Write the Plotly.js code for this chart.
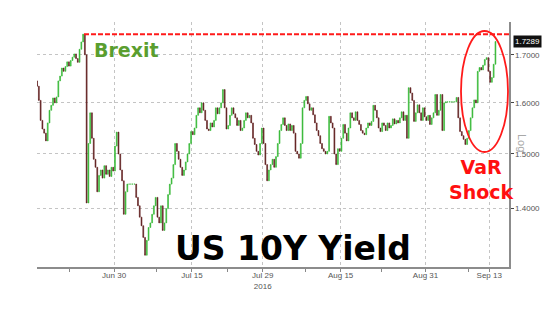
<!DOCTYPE html>
<html>
<head>
<meta charset="utf-8">
<script src="https://cdn.plot.ly/plotly-3.0.1.min.js"></script>
<style>html,body{margin:0;padding:0;background:#fff;}#chart{width:554px;height:309px;}</style>
</head>
<body>
<div id="chart"></div>
<script>
// Trading days shown on the chart (weekends removed by the axis)
const tradingDays = [
 '2016-06-15','2016-06-16','2016-06-17','2016-06-20','2016-06-21','2016-06-22','2016-06-23','2016-06-24',
 '2016-06-27','2016-06-28','2016-06-29','2016-06-30','2016-07-01','2016-07-04','2016-07-05','2016-07-06',
 '2016-07-07','2016-07-08','2016-07-11','2016-07-12','2016-07-13','2016-07-14','2016-07-15','2016-07-18',
 '2016-07-19','2016-07-20','2016-07-21','2016-07-22','2016-07-25','2016-07-26','2016-07-27','2016-07-28',
 '2016-07-29','2016-08-01','2016-08-02','2016-08-03','2016-08-04','2016-08-05','2016-08-08','2016-08-09',
 '2016-08-10','2016-08-11','2016-08-12','2016-08-15','2016-08-16','2016-08-17','2016-08-18','2016-08-19',
 '2016-08-22','2016-08-23','2016-08-24','2016-08-25','2016-08-26','2016-08-29','2016-08-30','2016-08-31',
 '2016-09-01','2016-09-02','2016-09-05','2016-09-06','2016-09-07','2016-09-08','2016-09-09','2016-09-12',
 '2016-09-13'
];
// Intraday session times (4 bars per day)
const sessionTimes = ['03:00','09:00','15:00','21:00'];
// US 10Y yield, closes of each intraday bar, one row per trading day
const closes = [
 [1.634,1.605,1.565,1.548],[1.540,1.525,1.560,1.585],[1.595,1.610,1.600,1.612],[1.645,1.655,1.672,1.665],
 [1.675,1.685,1.676,1.688],[1.695,1.702,1.692,1.684],[1.712,1.728,1.745,1.700],[1.410,1.520,1.580,1.530],
 [1.490,1.475,1.430,1.460],[1.470,1.455,1.478,1.462],[1.470,1.458,1.475,1.468],[1.515,1.542,1.500,1.470],
 [1.450,1.390,1.430,1.444],[1.444,1.444,1.444,1.444],[1.420,1.405,1.385,1.370],[1.350,1.320,1.345,1.367],
 [1.375,1.390,1.405,1.420],[1.385,1.375,1.405,1.362],[1.375,1.400,1.425,1.444],[1.455,1.480,1.520,1.505],
 [1.490,1.475,1.460,1.470],[1.485,1.500,1.520,1.543],[1.537,1.550,1.575,1.590],[1.580,1.600,1.585,1.565],
 [1.548,1.545,1.560,1.552],[1.565,1.590,1.578,1.590],[1.600,1.627,1.590,1.548],[1.555,1.575,1.590,1.578],
 [1.570,1.555,1.565,1.545],[1.550,1.565,1.580,1.570],[1.575,1.560,1.530,1.518],[1.505,1.498,1.520,1.550],
 [1.520,1.480,1.450,1.470],[1.480,1.490,1.475,1.495],[1.520,1.545,1.557,1.570],[1.555,1.545,1.558,1.545],
 [1.555,1.540,1.505,1.500],[1.492,1.520,1.590,1.605],[1.613,1.598,1.585,1.590],[1.576,1.560,1.545,1.535],
 [1.520,1.510,1.505,1.500],[1.505,1.573,1.560,1.550],[1.500,1.480,1.510,1.505],[1.530,1.557,1.540,1.525],
 [1.550,1.580,1.570,1.565],[1.582,1.565,1.557,1.545],[1.540,1.537,1.550,1.560],[1.555,1.563,1.595,1.585],
 [1.570,1.550,1.543,1.560],[1.555,1.545,1.560,1.550],[1.555,1.568,1.558,1.565],[1.560,1.570,1.582,1.565],
 [1.575,1.530,1.631,1.620],[1.605,1.563,1.580,1.596],[1.580,1.565,1.590,1.572],[1.565,1.575,1.557,1.570],
 [1.580,1.617,1.575,1.585],[1.617,1.545,1.600,1.602],[1.602,1.602,1.602,1.602],[1.602,1.611,1.570,1.543],
 [1.535,1.528,1.518,1.530],[1.545,1.570,1.590,1.606],[1.600,1.665,1.673,1.668],[1.678,1.690,1.694,1.665],
 [1.642,1.652,1.680,1.7289]
];
const firstOpen = 1.645;
const brexitHigh = 1.745;
const brexitHighTime = '2016-06-23 18:00';
const lastValue = 1.7289;

const yTickVals = [1.4, 1.5, 1.6, 1.7];
const yTickText = ['1.4000', '1.5000', '1.6000', '1.7000'];
const xTickVals = ['2016-06-30','2016-07-15','2016-07-29','2016-08-15','2016-08-31','2016-09-13'];
const xTickText = ['Jun 30','Jul 15','Jul 29<br>2016','Aug 15','Aug 31','Sep 13'];
const xMinorVals = ['2016-06-21 18:00','2016-07-08 00:00','2016-07-22 00:00','2016-08-08 00:00','2016-08-22 18:00','2016-09-08 00:00'];
const xRange = ['2016-06-15 02:40', '2016-09-15 19:00'];

// Build OHLC bars: each bar opens where the previous closed
const x = [], o = [], h = [], l = [], c = [];
let prev = firstOpen;
tradingDays.forEach((d, i) => {
  closes[i].forEach((v, q) => {
    x.push(d + ' ' + sessionTimes[q]);
    o.push(prev); c.push(v);
    h.push(Math.max(prev, v)); l.push(Math.min(prev, v));
    prev = v;
  });
});

const trace = {
  type: 'candlestick', x: x, open: o, high: h, low: l, close: c,
  increasing: {line: {color: '#34b834', width: 0.6}, fillcolor: '#34b834'},
  decreasing: {line: {color: '#5e1b1b', width: 0.6}, fillcolor: '#5e1b1b'},
  whiskerwidth: 0, hoverinfo: 'skip', showlegend: false
};

const font = 'Liberation Sans, Arial, sans-serif';
const boldFont = 'DejaVu Sans, Verdana, sans-serif';
const px = (v) => (v - 37) / 472;      // helper: pixel column -> paper x
const py = (v) => (267 - v) / 245;     // helper: pixel row -> paper y

const layout = {
  width: 554, height: 309,
  margin: {l: 37, r: 45, t: 22, b: 42},
  paper_bgcolor: '#ffffff', plot_bgcolor: '#ffffff',
  showlegend: false,
  font: {family: font, size: 8, color: '#555'},
  xaxis: {
    type: 'date',
    rangebreaks: [{bounds: ['sat', 'mon']}],
    range: xRange,
    rangeslider: {visible: false},
    tickmode: 'array', tickvals: xTickVals, ticktext: xTickText,
    ticks: 'outside', ticklen: 3, tickcolor: '#888', ticklabelstandoff: -3,
    tickfont: {size: 8, color: '#555'},
    showgrid: true, gridcolor: '#c4c4c4', griddash: 'dot', gridwidth: 1,
    minor: {tickmode: 'array', tickvals: xMinorVals, ticks: 'outside', ticklen: 3, tickcolor: '#888', showgrid: false},
    showline: true, linecolor: '#8c8c8c', linewidth: 1.5,
    zeroline: false, fixedrange: true
  },
  yaxis: {
    type: 'log', side: 'right',
    range: [Math.log10(1.3005), Math.log10(1.772)],
    tickmode: 'array', tickvals: yTickVals, ticktext: yTickText,
    ticks: 'outside', ticklen: 3, tickcolor: '#444',
    tickfont: {size: 8, color: '#555'},
    showgrid: true, gridcolor: '#c4c4c4', griddash: 'dot', gridwidth: 1,
    showline: true, linecolor: '#8c8c8c', linewidth: 1.5,
    zeroline: false, fixedrange: true
  },
  shapes: [
    {type: 'line', xref: 'x', yref: 'y', x0: brexitHighTime, x1: xRange[1], y0: brexitHigh, y1: brexitHigh,
     line: {color: '#ff1a1a', width: 2, dash: '5px,2px'}},
    {type: 'circle', xref: 'paper', yref: 'paper', x0: px(461), x1: px(508), y0: py(152), y1: py(31),
     line: {color: '#ff1a1a', width: 1.8}}
  ],
  annotations: [
    {xref: 'paper', yref: 'y', x: 1.0, y: Math.log10(lastValue), text: '1.7289', showarrow: false,
     xanchor: 'left', yanchor: 'middle', xshift: 4, font: {family: font, size: 8, color: '#ffffff'},
     bgcolor: '#111111', borderpad: 1},
    {xref: 'paper', yref: 'paper', x: 1.0, y: py(143), xshift: 13, text: 'Log', textangle: 90, showarrow: false,
     xanchor: 'center', yanchor: 'middle',
     font: {family: font, size: 11, color: '#a8a8a8'}},
    {xref: 'paper', yref: 'paper', x: px(126), y: py(50), text: '<b>Brexit</b>', showarrow: false,
     xanchor: 'center', yanchor: 'middle',
     font: {family: boldFont, size: 19, color: '#5a9e2f'}},
    {xref: 'paper', yref: 'paper', x: px(293), y: py(248), text: '<b>US 10Y Yield</b>', showarrow: false,
     xanchor: 'center', yanchor: 'middle',
     font: {family: boldFont, size: 33, color: '#000000'}},
    {xref: 'paper', yref: 'paper', x: px(481.5), y: py(179), text: '<b>VaR<br>Shock</b>', showarrow: false,
     xanchor: 'center', yanchor: 'middle',
     font: {family: boldFont, size: 19, color: '#ff1010'}}
  ]
};

Plotly.newPlot('chart', [trace], layout, {staticPlot: true, displayModeBar: false});
</script>
</body>
</html>
